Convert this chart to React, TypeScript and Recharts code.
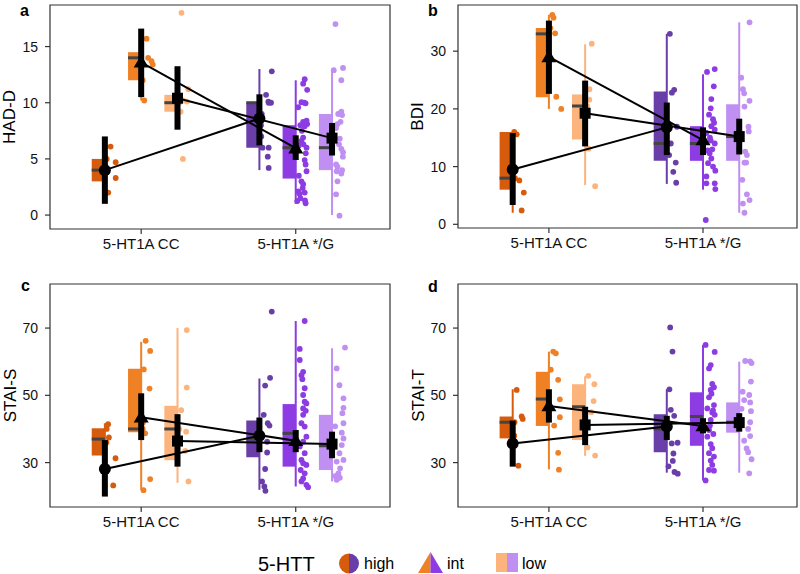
import React from 'react';
import { ComposedChart, Scatter, XAxis, YAxis, ReferenceArea, ReferenceLine } from 'recharts';

// ---------- categories & groups ----------
const CATEGORIES = ['5-HT1A CC', '5-HT1A */G'];
const HTT_LEVELS = ['high', 'int', 'low'];
const COLORS_CC = ['#D65B0C', '#EF8124', '#FDB37C'];
const COLORS_G = ['#6A3EA9', '#8C3CE2', '#BF8FF1'];

// group order in every array: CC-high, CC-int, CC-low, */G-high, */G-int, */G-low
// box stats: [whiskerLow, q1, median, q3, whiskerHigh]
// means: [mean, ciLow, ciHigh]
// points: [jitter, value]

// ---------- a: HAD-D ----------
const HADD_BOX = [[2.0, 3, 4, 5, 6.1], [10.2, 12, 14, 14.5, 15.7], [9.2, 9.2, 10, 10.7, 11.2], [4, 6, 10, 10, 13], [1, 3.25, 6, 8, 12], [0, 4, 6, 9, 13]];
const HADD_MEAN = [[4.0, 1.0, 7.0], [13.6, 10.5, 16.6], [10.4, 7.6, 13.25], [8.6, 6.2, 10.75], [5.95, 4.9, 7.1], [6.85, 5.3, 8.2]];
const HADD_CC_HIGH = [[0.037, 6.1], [0.07, 4.7], [0.07, 3.3], [0.022, 2.0], [0.01, 4.0], [0.012, 5.0]];
const HADD_CC_INT = [[0.035, 15.7], [0.067, 13.7], [0.075, 13.4], [0.045, 14.0], [0.02, 10.2], [0.01, 12.0]];
const HADD_CC_LOW = [[0.026, 18.0], [0.07, 11.2], [0.035, 10.2], [0.06, 10.1], [0.02, 9.2], [0.035, 5.0], [0.012, 10.0]];
const HADD_G_HIGH = [[0.08, 12.8], [0.043, 10.7], [0.058, 10.1], [0.075, 10.0], [0.06, 10.0], [0.06, 6.0], [0.054, 5.2], [0.06, 4.2], [0.01, 8], [0.015, 9], [0.012, 7], [0.02, 6]];
const HADD_G_INT = [[0.058, 12.1], [0.048, 11.7], [0.074, 11.15], [0.016, 9.6], [0.037, 10.05], [0.064, 9.95], [0.048, 8.3], [0.074, 8.1], [0.058, 7.9], [0.048, 6.9], [0.037, 6.6], [0.07, 6.0], [0.058, 4.9], [0.064, 4.5], [0.037, 3.0], [0.048, 2.75], [0.016, 2.1], [0.025, 1.9], [0.058, 2.0], [0.01, 1.25], [0.064, 1.05], [0.03, 1.5], [0.07, 8.4], [0.04, 7.5], [0.065, 5.5], [0.02, 3.5], [0.055, 10.0], [0.03, 8.0], [0.07, 3.9], [0.045, 2.4], [0.06, 1.3], [0.02, 6.2], [0.05, 6.3]];
const HADD_G_LOW = [[0.022, 17.0], [0.011, 12.9], [0.071, 13.1], [0.06, 12.0], [0.06, 9.2], [0.065, 8.9], [0.035, 8.1], [0.026, 7.75], [0.06, 5.9], [0.071, 5.6], [0.026, 4.5], [0.035, 4.3], [0.065, 4.0], [0.06, 3.7], [0.035, 3.0], [0.026, 1.85], [0.048, -0.05], [0.05, 6.8], [0.04, 9.0], [0.07, 5.2], [0.03, 3.9], [0.055, 8.3], [0.045, 6.3]];

// ---------- b: BDI ----------
const BDI_BOX = [[2, 6, 8, 16, 16], [20, 22, 33, 34, 36.3], [6.8, 14.7, 20.5, 22.5, 31.2], [7, 11, 14, 23, 33], [6, 11, 14, 17, 26], [2, 11, 15.2, 20.8, 35]];
const BDI_MEAN = [[9.5, 3.35, 15.8], [29.0, 22.6, 35.3], [19.25, 13.5, 24.9], [16.8, 12.0, 21.1], [14.6, 12.0, 16.8], [15.2, 12.1, 18.3]];
const BDI_CC_HIGH = [[0.026, 15.6], [0.043, 7.6], [0.072, 5.5], [0.058, 2.4], [0.01, 16], [0.015, 8]];
const BDI_CC_INT = [[0.022, 36.3], [0.03, 35.8], [0.04, 33.1], [0.048, 22.1], [0.08, 20.0], [0.01, 34]];
const BDI_CC_LOW = [[0.043, 31.3], [0.028, 23.4], [0.027, 21.6], [0.022, 13.1], [0.065, 6.6], [0.01, 19], [0.012, 20.5]];
const BDI_G_HIGH = [[0.02, 33.0], [0.048, 23.3], [0.033, 22.8], [0.066, 16.9], [0.026, 14.0], [0.058, 10.7], [0.042, 9.1], [0.061, 7.2], [0.01, 17.5], [0.015, 12]];
const BDI_G_INT = [[0.076, 26.9], [0.026, 26.4], [0.07, 23.9], [0.054, 21.7], [0.05, 20.1], [0.039, 19.0], [0.072, 17.6], [0.054, 17.0], [0.076, 16.4], [0.022, 15.8], [0.076, 14.0], [0.043, 12.3], [0.054, 11.4], [0.033, 10.6], [0.065, 10.0], [0.08, 9.3], [0.022, 8.3], [0.076, 7.1], [0.022, 7.1], [0.08, 6.1], [0.018, 0.75], [0.06, 13.0], [0.045, 15.0], [0.03, 12.8], [0.065, 18.2], [0.05, 14.5]];
const BDI_G_LOW = [[0.067, 35.0], [0.013, 25.4], [0.024, 23.4], [0.032, 22.7], [0.067, 21.4], [0.034, 20.4], [0.06, 16.9], [0.062, 16.1], [0.039, 12.6], [0.05, 12.0], [0.034, 10.7], [0.045, 10.7], [0.02, 7.7], [0.05, 5.2], [0.067, 4.2], [0.024, 3.6], [0.034, 2.0]];

// ---------- c: STAI-S ----------
const STAIS_BOX = [[23.1, 32.1, 37, 40.2, 41.7], [21.9, 39.0, 40.0, 57.9, 65.9], [24, 30.7, 40, 46.9, 70], [21.9, 31.6, 37, 42.5, 55], [22.9, 28.8, 38.7, 47.4, 72.1], [24.4, 27.8, 35, 44.2, 64]];
const STAIS_MEAN = [[28.1, 19.9, 36.7], [43.5, 36.7, 50.6], [36.4, 28.8, 44.4], [38.0, 33.1, 43.4], [36.5, 33.1, 39.7], [35.5, 31.3, 39.2]];
const STAIS_CC_HIGH = [[0.021, 41.4], [0.026, 37.5], [0.069, 31.3], [0.054, 23.2], [0.01, 36], [0.012, 40]];
const STAIS_CC_INT = [[0.029, 66.2], [0.058, 63.2], [0.017, 57.7], [0.054, 52.0], [0.026, 38.7], [0.058, 25.1], [0.015, 21.8], [0.01, 40], [0.012, 42]];
const STAIS_CC_LOW = [[0.06, 69.4], [0.06, 52.3], [0.024, 45.6], [0.056, 39.2], [0.05, 33.5], [0.071, 24.4], [0.01, 36], [0.012, 40]];
const STAIS_G_HIGH = [[0.08, 74.9], [0.069, 55.2], [0.037, 52.9], [0.028, 44.2], [0.054, 41.7], [0.065, 41.0], [0.05, 36.2], [0.05, 33.0], [0.037, 28.1], [0.017, 24.4], [0.032, 22.9], [0.039, 21.6]];
const STAIS_G_INT = [[0.058, 72.1], [0.026, 63.8], [0.026, 60.5], [0.048, 57.0], [0.037, 56.0], [0.043, 54.8], [0.058, 52.1], [0.048, 50.1], [0.058, 48.1], [0.069, 47.6], [0.048, 46.1], [0.065, 45.4], [0.048, 44.2], [0.037, 41.7], [0.058, 40.7], [0.069, 37.7], [0.048, 36.2], [0.026, 34.8], [0.058, 32.8], [0.037, 30.8], [0.048, 29.8], [0.069, 29.3], [0.032, 27.8], [0.058, 26.8], [0.048, 25.3], [0.037, 24.4], [0.069, 23.4], [0.08, 22.7]];
const STAIS_G_LOW = [[0.084, 64.2], [0.03, 58.0], [0.048, 53.0], [0.074, 49.1], [0.074, 46.3], [0.067, 44.7], [0.074, 41.7], [0.02, 40.8], [0.063, 38.9], [0.074, 37.2], [0.063, 35.2], [0.048, 32.8], [0.074, 30.8], [0.03, 30.3], [0.052, 28.3], [0.041, 26.8], [0.02, 26.0], [0.03, 24.9], [0.05, 25.5]];

// ---------- d: STAI-T ----------
const STAIT_BOX = [[29.1, 37.2, 42, 43.7, 51.8], [28, 40.9, 48.9, 57.0, 63], [32, 36.7, 46.6, 53.3, 55.7], [27, 33.1, 40, 44.4, 51.8], [24.7, 35.0, 43.7, 50.9, 65], [27, 38.9, 42, 47.9, 60]];
const STAIT_MEAN = [[35.7, 28.8, 42.5], [46.8, 41.9, 51.8], [41.2, 35.2, 46.6], [40.7, 36.7, 43.9], [40.9, 38.7, 43.2], [41.9, 39.2, 44.7]];
const STAIT_CC_HIGH = [[0.026, 51.6], [0.058, 43.7], [0.065, 43.0], [0.037, 29.1], [0.01, 38], [0.012, 42]];
const STAIT_CC_INT = [[0.028, 63.0], [0.045, 62.5], [0.012, 57.6], [0.06, 54.6], [0.071, 48.8], [0.071, 43.5], [0.034, 41.0], [0.06, 32.9], [0.065, 27.9]];
const STAIT_CC_LOW = [[0.021, 55.8], [0.06, 53.3], [0.055, 48.3], [0.04, 45], [0.015, 34.5], [0.065, 32.1], [0.01, 41]];
const STAIT_G_HIGH = [[0.022, 70.2], [0.037, 63.0], [0.017, 51.8], [0.026, 45.7], [0.048, 43.9], [0.07, 35.9], [0.032, 35.7], [0.043, 32.7], [0.039, 30.5], [0.011, 28.9], [0.05, 27.2], [0.071, 26.7]];
const STAIT_G_INT = [[0.017, 65.0], [0.076, 62.9], [0.05, 59.0], [0.039, 58.0], [0.06, 53.4], [0.071, 52.4], [0.05, 51.6], [0.039, 49.4], [0.071, 47.1], [0.028, 46.1], [0.06, 44.9], [0.076, 44.2], [0.05, 42.7], [0.039, 39.7], [0.067, 38.5], [0.028, 37.7], [0.05, 35.5], [0.06, 34.3], [0.039, 32.8], [0.071, 31.8], [0.05, 30.6], [0.06, 29.3], [0.039, 27.8], [0.071, 27.6], [0.017, 24.7], [0.055, 50.5], [0.065, 45.5], [0.045, 41.0]];
const STAIT_G_LOW = [[0.039, 60.2], [0.071, 60.1], [0.08, 59.6], [0.076, 54.1], [0.022, 51.1], [0.065, 50.1], [0.032, 48.6], [0.071, 47.9], [0.015, 46.0], [0.076, 45.3], [0.071, 42.0], [0.058, 40.0], [0.071, 37.9], [0.032, 36.5], [0.048, 34.2], [0.058, 33.1], [0.08, 31.0], [0.065, 26.8]];

// ---------- axes ----------
const HADD_TICKS = [0, 5, 10, 15];
const BDI_TICKS = [0, 10, 20, 30];
const STAI_TICKS = [30, 50, 70];

// ---------- layout (not data) ----------
const X_DOMAIN: [number, number] = [0.41, 2.61];
const DODGE = [-0.235, 0, 0.235];
const BOX_W = 0.085;
const FONT = '"Liberation Sans", Arial, Helvetica, sans-serif';

const groupPos = (g: number) => Math.floor(g / 3) + 1 + DODGE[g % 3];
const groupColor = (g: number) => (g < 3 ? COLORS_CC[g] : COLORS_G[g - 3]);

const Dot = (p: any) => <circle cx={p.cx} cy={p.cy} r={2.9} fill={p.fill} />;

const MeanMarker = (level: number) => (p: any) => {
  const { cx, cy } = p;
  if (cx == null || cy == null) return null;
  if (level === 0) return <circle cx={cx} cy={cy} r={6} fill="#000" />;
  if (level === 1) {
    const s = 7.5;
    return <polygon points={`${cx},${cy - s} ${cx - s},${cy + s * 0.7} ${cx + s},${cy + s * 0.7}`} fill="#000" />;
  }
  return <rect x={cx - 5.5} y={cy - 5.5} width={11} height={11} fill="#000" />;
};

type PanelProps = {
  boxes: number[][];
  means: number[][];
  points: number[][][];
  domain: [number, number];
  ticks: number[];
  yLabel: string;
  margin: { top: number; right: number; bottom: number; left: number };
  yWidth: number;
  labelOffset: number;
};

function Panel({ boxes, means, points, domain, ticks, yLabel, margin, yWidth, labelOffset }: PanelProps) {
  return (
    <ComposedChart width={400} height={260} margin={margin}>
      <XAxis
        type="number"
        dataKey="x"
        domain={X_DOMAIN}
        allowDataOverflow
        ticks={[1, 2]}
        tickFormatter={(v: number) => CATEGORIES[Math.round(v) - 1]}
        tick={{ fontSize: 15, fill: '#111' }}
        tickLine={{ stroke: '#333', strokeWidth: 1.2 }}
        tickSize={5}
        tickMargin={4}
        axisLine={false}
        height={25}
        interval={0}
      />
      <YAxis
        type="number"
        dataKey="y"
        domain={domain}
        allowDataOverflow
        ticks={ticks}
        interval={0}
        tick={{ fontSize: 14, fill: '#111' }}
        tickLine={{ stroke: '#333', strokeWidth: 1.2 }}
        tickSize={5}
        tickMargin={7}
        axisLine={false}
        width={yWidth}
        label={{ value: yLabel, angle: -90, position: 'insideLeft', offset: labelOffset, style: { textAnchor: 'middle', fontSize: 17, fill: '#000' } }}
      />
      {boxes.map((b, g) => (
        <ReferenceArea key={`box${g}`} x1={groupPos(g) - BOX_W} x2={groupPos(g)} y1={b[1]} y2={b[3]} fill={groupColor(g)} fillOpacity={1} stroke="none" ifOverflow="visible" zIndex={100} />
      ))}
      {boxes.map((b, g) => (
        <ReferenceLine key={`wh${g}`} segment={[{ x: groupPos(g), y: b[0] }, { x: groupPos(g), y: b[4] }]} stroke={groupColor(g)} strokeWidth={2} ifOverflow="visible" zIndex={110} />
      ))}
      {boxes.map((b, g) => (
        <ReferenceLine key={`md${g}`} segment={[{ x: groupPos(g) - BOX_W, y: b[2] }, { x: groupPos(g), y: b[2] }]} stroke="#444" strokeWidth={3} ifOverflow="visible" zIndex={120} />
      ))}
      {points.map((pts, g) => (
        <Scatter
          key={`pts${g}`}
          data={pts.map(([dx, y]) => ({ x: groupPos(g) + dx, y }))}
          fill={groupColor(g)}
          shape={Dot}
          isAnimationActive={false}
          zIndex={600}
        />
      ))}
      {means.map((m, g) => (
        <ReferenceLine key={`ci${g}`} segment={[{ x: groupPos(g), y: m[1] }, { x: groupPos(g), y: m[2] }]} stroke="#000" strokeWidth={6} ifOverflow="visible" zIndex={650} />
      ))}
      {HTT_LEVELS.map((lvl, l) => (
        <Scatter
          key={`mean${lvl}`}
          data={[0, 1].map((c) => ({ x: groupPos(c * 3 + l), y: means[c * 3 + l][0] }))}
          line={{ stroke: '#000', strokeWidth: 2 }}
          lineType="joint"
          fill="#000"
          shape={MeanMarker(l)}
          isAnimationActive={false}
          zIndex={700}
        />
      ))}
      <ReferenceArea x1={X_DOMAIN[0]} x2={X_DOMAIN[1]} y1={domain[0]} y2={domain[1]} fill="none" stroke="#333" strokeWidth={1.2} ifOverflow="visible" zIndex={800} />
    </ComposedChart>
  );
}

const PANEL_LETTERS = ['a', 'b', 'c', 'd'];

export default function App() {
  const cellStyle = (left: number, top: number): React.CSSProperties => ({ position: 'absolute', left, top, width: 400, height: 260 });
  return (
    <div style={{ position: 'absolute', left: 0, top: 0, width: 800, height: 574, background: '#fff', fontFamily: FONT }}>
      <div style={cellStyle(0, 0)}>
        <Panel boxes={HADD_BOX} means={HADD_MEAN} points={[HADD_CC_HIGH, HADD_CC_INT, HADD_CC_LOW, HADD_G_HIGH, HADD_G_INT, HADD_G_LOW]}
          domain={[-1.24, 18.7]} ticks={HADD_TICKS} yLabel="HAD-D" margin={{ top: 5, right: 10, bottom: 6, left: 0 }} yWidth={50} labelOffset={9} />
      </div>
      <div style={cellStyle(400, 0)}>
        <Panel boxes={BDI_BOX} means={BDI_MEAN} points={[BDI_CC_HIGH, BDI_CC_INT, BDI_CC_LOW, BDI_G_HIGH, BDI_G_INT, BDI_G_LOW]}
          domain={[-0.64, 38.0]} ticks={BDI_TICKS} yLabel="BDI" margin={{ top: 5, right: 3, bottom: 7, left: 0 }} yWidth={58} labelOffset={17} />
      </div>
      <div style={cellStyle(0, 279)}>
        <Panel boxes={STAIS_BOX} means={STAIS_MEAN} points={[STAIS_CC_HIGH, STAIS_CC_INT, STAIS_CC_LOW, STAIS_G_HIGH, STAIS_G_INT, STAIS_G_LOW]}
          domain={[16.8, 83.1]} ticks={STAI_TICKS} yLabel="STAI-S" margin={{ top: 5, right: 10, bottom: 7, left: 0 }} yWidth={50} labelOffset={10} />
      </div>
      <div style={cellStyle(400, 279)}>
        <Panel boxes={STAIT_BOX} means={STAIT_MEAN} points={[STAIT_CC_HIGH, STAIT_CC_INT, STAIT_CC_LOW, STAIT_G_HIGH, STAIT_G_INT, STAIT_G_LOW]}
          domain={[16.8, 83.1]} ticks={STAI_TICKS} yLabel="STAI-T" margin={{ top: 5, right: 3, bottom: 7, left: 0 }} yWidth={58} labelOffset={17.5} />
      </div>
      <svg width={800} height={574} style={{ position: 'absolute', left: 0, top: 0, pointerEvents: 'none' }}>
        <text x={20} y={16} fontSize={16} fontWeight="bold" fill="#000">{PANEL_LETTERS[0]}</text>
        <text x={428} y={16} fontSize={16} fontWeight="bold" fill="#000">{PANEL_LETTERS[1]}</text>
        <text x={21} y={291} fontSize={16} fontWeight="bold" fill="#000">{PANEL_LETTERS[2]}</text>
        <text x={428} y={292} fontSize={16} fontWeight="bold" fill="#000">{PANEL_LETTERS[3]}</text>
        <text x={258} y={571} fontSize={20} fill="#000">5-HTT</text>
        {/* high: half circle */}
        <path d="M349,553.5 A10,10 0 0,0 349,573.5 Z" fill={COLORS_CC[0]} />
        <path d="M349,553.5 A10,10 0 0,1 349,573.5 Z" fill={COLORS_G[0]} />
        <text x={364} y={569} fontSize={16} fill="#000">{HTT_LEVELS[0]}</text>
        {/* int: half triangle */}
        <polygon points="418,573 430.5,552 430.5,573" fill={COLORS_CC[1]} />
        <polygon points="430.5,552 443,573 430.5,573" fill={COLORS_G[1]} />
        <text x={447} y={569} fontSize={16} fill="#000">{HTT_LEVELS[1]}</text>
        {/* low: half square */}
        <rect x={496} y={553} width={11} height={19} fill={COLORS_CC[2]} />
        <rect x={507} y={553} width={11} height={19} fill={COLORS_G[2]} />
        <text x={522} y={569} fontSize={16} fill="#000">{HTT_LEVELS[2]}</text>
      </svg>
    </div>
  );
}
